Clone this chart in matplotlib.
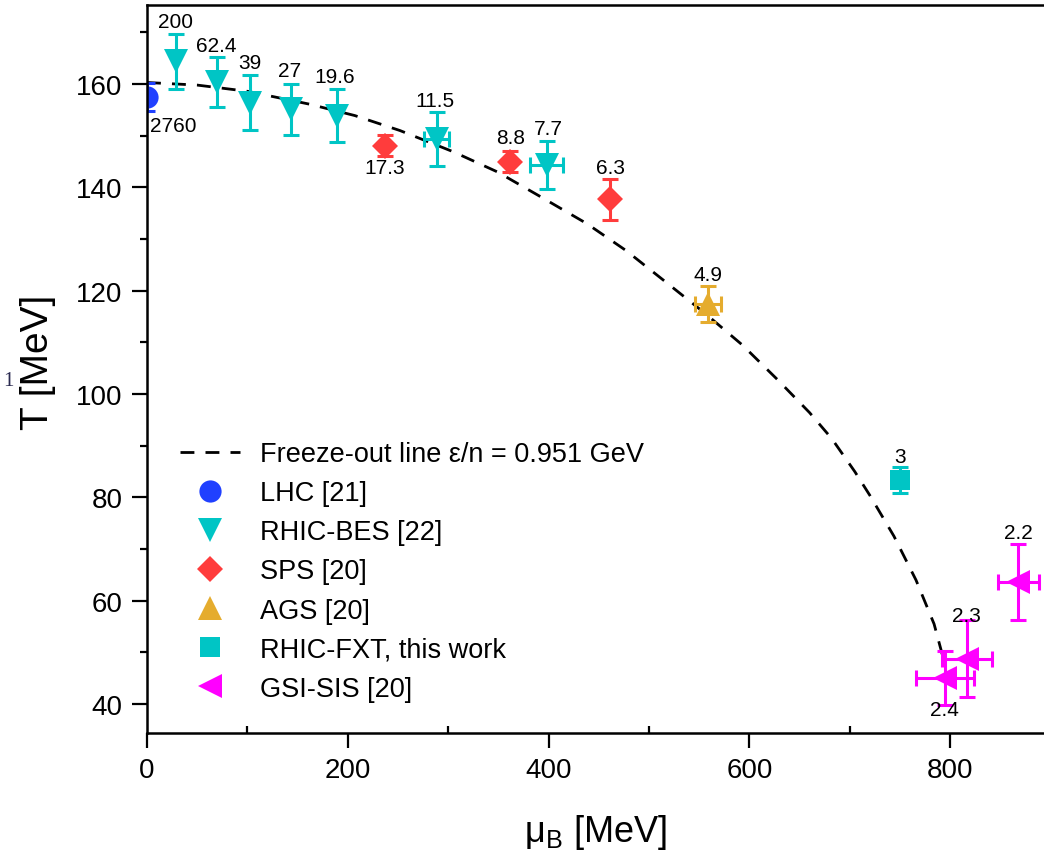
import matplotlib
matplotlib.use("Agg")
import matplotlib.pyplot as plt
from matplotlib.ticker import MultipleLocator

plt.rcParams['font.family'] = ['Liberation Sans', 'DejaVu Sans']
plt.rcParams['mathtext.fontset'] = 'custom'
plt.rcParams['mathtext.rm'] = 'Liberation Sans'

# freeze-out line
line_mu = [0, 50, 100, 162, 207, 252, 305, 349, 392, 438, 477, 516, 556, 593, 628, 660, 682, 705, 720, 744, 766,
           784, 793]
line_T = [160.3, 159.8, 158.6, 156.1, 153.9, 151.0, 146.9, 143.0, 138.2, 133.0, 127.8, 121.8, 115.6, 109.5, 102.8,
          96.4, 91.4, 85.0, 80.4, 72.5, 64.0, 55.5, 49.0]

lhc_mu = [0]
lhc_T = [157.5]
lhc_err = [2.8]
lhc_lab = ['2760']

bes_mu = [29, 69.3, 102.6, 143.4, 189, 288.5, 398]
bes_T = [164.4, 160.4, 156.4, 155.1, 153.9, 149.4, 144.3]
bes_Terr = [5.3, 4.8, 5.3, 5.0, 5.2, 5.2, 4.7]
bes_muerr = [0, 0, 0, 0, 0, 12.5, 16.6]
bes_lab = ['200', '62.4', '39', '27', '19.6', '11.5', '7.7']

sps_mu = [237, 361.6, 461]
sps_T = [148.1, 145.0, 137.7]
sps_Terr = [2.0, 2.1, 4.0]
sps_lab = ['17.3', '8.8', '6.3']

ags_mu = [558.8]
ags_T = [117.5]
ags_Terr = [3.5]
ags_muerr = [13.3]
ags_lab = ['4.9']

fxt_mu = [750]
fxt_T = [83.4]
fxt_Terr = [2.5]
fxt_lab = ['3']

sis_mu = [868, 816.4, 794.8]
sis_T = [63.6, 48.8, 45.1]
sis_Terr = [7.4, 7.5, 5.2]
sis_muerr = [20.7, 25, 29]
sis_lab = ['2.2', '2.3', '2.4']

# label positions (data coords)
lab_pos = {
    '2760': (26.2, 151.9), '200': (27.9, 172.2), '62.4': (69.4, 167.4), '39': (102.6, 164.2),
    '27': (142.4, 162.6), '19.6': (187.3, 161.5), '11.5': (286.9, 156.8), '7.7': (399.7, 151.4),
    '17.3': (237, 143.9), '8.8': (362.5, 149.7), '6.3': (461.2, 143.9), '4.9': (559, 123.2),
    '3': (750, 88.0), '2.2': (867.8, 73.2), '2.3': (816.4, 57.1), '2.4': (794.8, 39.0),
}

c_lhc = '#2040ff'
c_cyan = '#00c5c5'
c_red = '#ff3c3c'
c_ags = '#e5ac2e'
c_mag = '#ff00ff'

fig = plt.figure(figsize=(10.44, 8.54), dpi=100)
ax = fig.add_axes([147 / 1044, (854 - 734) / 854, (1043 - 147) / 1044, (734 - 6) / 854])

ax.plot(line_mu, line_T, ls=(0, (5, 4)), color='black', lw=2, label='Freeze-out line ε/n = 0.951 GeV')

eb = dict(ls='none', elinewidth=2.2, capthick=2.2, capsize=6)
ax.errorbar(lhc_mu, lhc_T, yerr=lhc_err, color=c_lhc, **eb)
ax.plot(lhc_mu, lhc_T, 'o', color=c_lhc, ms=16, mew=0, label='LHC [21]')

ax.errorbar(bes_mu, bes_T, yerr=bes_Terr, xerr=bes_muerr, color=c_cyan, **eb)
ax.plot(bes_mu, bes_T, 'v', color=c_cyan, ms=17, mew=0, label='RHIC-BES [22]')

ax.errorbar(sps_mu, sps_T, yerr=sps_Terr, color=c_red, **eb)
ax.plot(sps_mu, sps_T, 'D', color=c_red, ms=13, mew=0, label='SPS [20]')

ax.errorbar(ags_mu, ags_T, yerr=ags_Terr, xerr=ags_muerr, color=c_ags, **eb)
ax.plot(ags_mu, ags_T, '^', color=c_ags, ms=17, mew=0, label='AGS [20]')

ax.errorbar(fxt_mu, fxt_T, yerr=fxt_Terr, color=c_cyan, **eb)
ax.plot(fxt_mu, fxt_T, 's', color=c_cyan, ms=14, mew=0, label='RHIC-FXT, this work')

ax.errorbar(sis_mu, sis_T, yerr=sis_Terr, xerr=sis_muerr, color=c_mag, **eb)
ax.plot(sis_mu, sis_T, '<', color=c_mag, ms=17, mew=0, label='GSI-SIS [20]')

for lab in lhc_lab + bes_lab + sps_lab + ags_lab + fxt_lab + sis_lab:
    x, y = lab_pos[lab]
    ax.text(x, y, lab, fontsize=15, ha='center', va='center')

ax.set_xlim(0, 892.5)
ax.set_ylim(34.4, 175.3)
ax.xaxis.set_major_locator(MultipleLocator(200))
ax.xaxis.set_minor_locator(MultipleLocator(100))
ax.yaxis.set_major_locator(MultipleLocator(20))
ax.yaxis.set_minor_locator(MultipleLocator(10))
ax.tick_params(axis='x', which='major', direction='out', length=10.5, width=1.6, labelsize=20, pad=7)
ax.tick_params(axis='x', which='minor', direction='in', length=5, width=1.6)
ax.tick_params(axis='y', which='major', direction='out', length=10.5, width=1.6, labelsize=20, pad=7)
ax.tick_params(axis='y', which='minor', direction='out', length=5, width=1.6)
for s in ['left', 'bottom', 'top']:
    ax.spines[s].set_linewidth(1.8)
ax.spines['right'].set_visible(False)

ax.set_xlabel('μ$_\\mathregular{B}$ [MeV]', fontsize=26)
ax.set_ylabel('T [MeV]', fontsize=28)
ax.xaxis.set_label_coords(0.5, -0.108)
ax.yaxis.set_label_coords(-0.102, 0.51)

ax.legend(loc='upper left', bbox_to_anchor=(0.037, 0.401), frameon=False, fontsize=19.5,
          handlelength=2.2, handletextpad=0.75, labelspacing=0.485, borderaxespad=0, borderpad=0,
          numpoints=1)

fig.text(3 / 1044, 1 - 382 / 854, '1', fontsize=15, family='Liberation Serif', color='#2a2a50',
         ha='left', va='center')

fig.savefig('out.png', dpi=100)
